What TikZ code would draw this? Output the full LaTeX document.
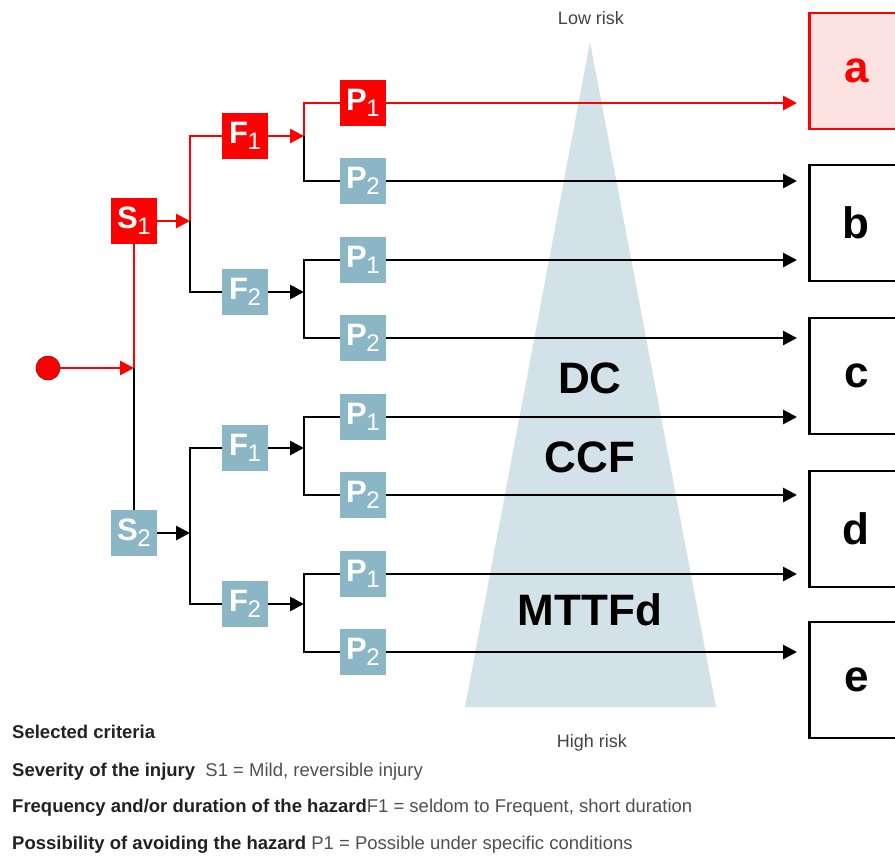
\documentclass[tikz,border=0pt]{standalone}
\usepackage{fontspec}
\setmainfont{Liberation Sans}
\usetikzlibrary{arrows.meta}
\definecolor{myred}{HTML}{FF0000}
\definecolor{boxblue}{HTML}{8BB6C6}
\definecolor{trifill}{HTML}{D3E1E8}
\definecolor{afill}{HTML}{FDE2E2}
\definecolor{txtgray}{HTML}{444444}
\definecolor{critbold}{HTML}{222222}
\definecolor{critreg}{HTML}{505050}
\newcommand{\lbl}[2]{\fontsize{31}{31}\selectfont\bfseries #1\kern-0.5pt\raisebox{-6pt}{\fontsize{24}{24}\selectfont\mdseries #2}}
\begin{document}
\begin{tikzpicture}[x=1pt,y=-1pt,
  sq/.style={minimum size=46pt, inner sep=0pt, text=white, fill=boxblue},
  redsq/.style={sq, fill=myred},
  conn/.style={line width=2.8pt, black},
  redconn/.style={line width=2.8pt, myred},
  arr/.style={-{Triangle[length=14pt,width=14pt]}},
  outbox/.style={draw=black, line width=2.6pt, minimum width=94pt, minimum height=116pt, inner sep=0pt, font=\fontsize{44}{44}\selectfont\bfseries, anchor=west},
  big/.style={font=\fontsize{44}{44}\selectfont\bfseries},
  risk/.style={font=\fontsize{18}{18}\selectfont, text=txtgray},
  crit/.style={anchor=base west, inner sep=0pt, font=\fontsize{18.5}{18.5}\selectfont},
  ]
\clip (0,0) rectangle (895,855);
\fill[white] (0,0) rectangle (895,855);

% risk triangle
\fill[trifill] (590,42) -- (716,707) -- (465,707) -- cycle;
\node[risk] (low) at (591,18) {Low risk};
\node[risk] (high) at (592,743) {High risk};
\node[big] (dc) at (590,378) {DC};
\node[big] (ccf) at (590,457) {CCF};
\node[big] (mttf) at (590,610) {MTTFd};

% outcome boxes
\node[outbox, draw=myred, fill=afill, text=myred] (a) at (808,71) {a};
\node[outbox] (b) at (808,223) {b};
\node[outbox] (c) at (808,376) {c};
\node[outbox] (d) at (808,529) {d};
\node[outbox] (e) at (808,680) {e};

% start
\node[circle, fill=myred, draw=myred!60!black, line width=0.6pt, minimum size=24pt, inner sep=0pt] (start) at (48,368) {};

% decision boxes
\node[redsq] (S1) at (134,221) {\lbl{S}{1}};
\node[sq] (S2) at (134,533) {\lbl{S}{2}};
\node[redsq] (F1a) at (245,136) {\lbl{F}{1}};
\node[sq] (F2a) at (245,292) {\lbl{F}{2}};
\node[sq] (F1b) at (245,448) {\lbl{F}{1}};
\node[sq] (F2b) at (245,604) {\lbl{F}{2}};
\node[redsq] (P1a) at (363,103) {\lbl{P}{1}};
\node[sq] (P2a) at (363,181) {\lbl{P}{2}};
\node[sq] (P1b) at (363,260) {\lbl{P}{1}};
\node[sq] (P2b) at (363,338) {\lbl{P}{2}};
\node[sq] (P1c) at (363,417) {\lbl{P}{1}};
\node[sq] (P2c) at (363,495) {\lbl{P}{2}};
\node[sq] (P1d) at (363,574) {\lbl{P}{1}};
\node[sq] (P2d) at (363,652) {\lbl{P}{2}};

% junctions
\coordinate (j0) at (134,368);
\coordinate (j1) at (190,221);
\coordinate (j2) at (190,533);
\coordinate (k1) at (304,136);
\coordinate (k2) at (304,292);
\coordinate (k3) at (304,448);
\coordinate (k4) at (304,604);

% arrow ends
\coordinate (t1) at (797,103);
\coordinate (t2) at (797,181);
\coordinate (t3) at (797,260);
\coordinate (t4) at (797,338);
\coordinate (t5) at (797,417);
\coordinate (t6) at (797,495);
\coordinate (t7) at (797,574);
\coordinate (t8) at (797,652);

% connectors: level S
\draw[redconn, arr] (start) -- (j0);
\draw[redconn] (S1) -- (j0);
\draw[conn] (j0) -- (S2);

% level F
\draw[redconn, arr] (S1) -- (j1);
\draw[redconn] (j1) |- (F1a);
\draw[conn] (j1) |- (F2a);
\draw[conn, arr] (S2) -- (j2);
\draw[conn] (j2) |- (F1b);
\draw[conn] (j2) |- (F2b);

% level P
\draw[redconn, arr] (F1a) -- (k1);
\draw[redconn] (k1) |- (P1a);
\draw[conn] (k1) |- (P2a);
\draw[conn, arr] (F2a) -- (k2);
\draw[conn] (k2) |- (P1b);
\draw[conn] (k2) |- (P2b);
\draw[conn, arr] (F1b) -- (k3);
\draw[conn] (k3) |- (P1c);
\draw[conn] (k3) |- (P2c);
\draw[conn, arr] (F2b) -- (k4);
\draw[conn] (k4) |- (P1d);
\draw[conn] (k4) |- (P2d);

% to outcomes
\draw[redconn, arr] (P1a) -- (t1);
\draw[conn, arr] (P2a) -- (t2);
\draw[conn, arr] (P1b) -- (t3);
\draw[conn, arr] (P2b) -- (t4);
\draw[conn, arr] (P1c) -- (t5);
\draw[conn, arr] (P2c) -- (t6);
\draw[conn, arr] (P1d) -- (t7);
\draw[conn, arr] (P2d) -- (t8);

% criteria text
\node[crit, text=critbold] (c0) at (12,738) {\bfseries Selected criteria};
\node[crit, text=critbold] (c1) at (12,776) {\bfseries Severity of the injury\ \ \mdseries\color{critreg}S1 = Mild, reversible injury};
\node[crit, text=critbold] (c2) at (12,812) {\bfseries Frequency and/or duration of the hazard\mdseries\color{critreg}F1 = seldom to Frequent, short duration};
\node[crit, text=critbold] (c3) at (12,849) {\bfseries Possibility of avoiding the hazard \mdseries\color{critreg}P1 = Possible under specific conditions};
\end{tikzpicture}
\end{document}
